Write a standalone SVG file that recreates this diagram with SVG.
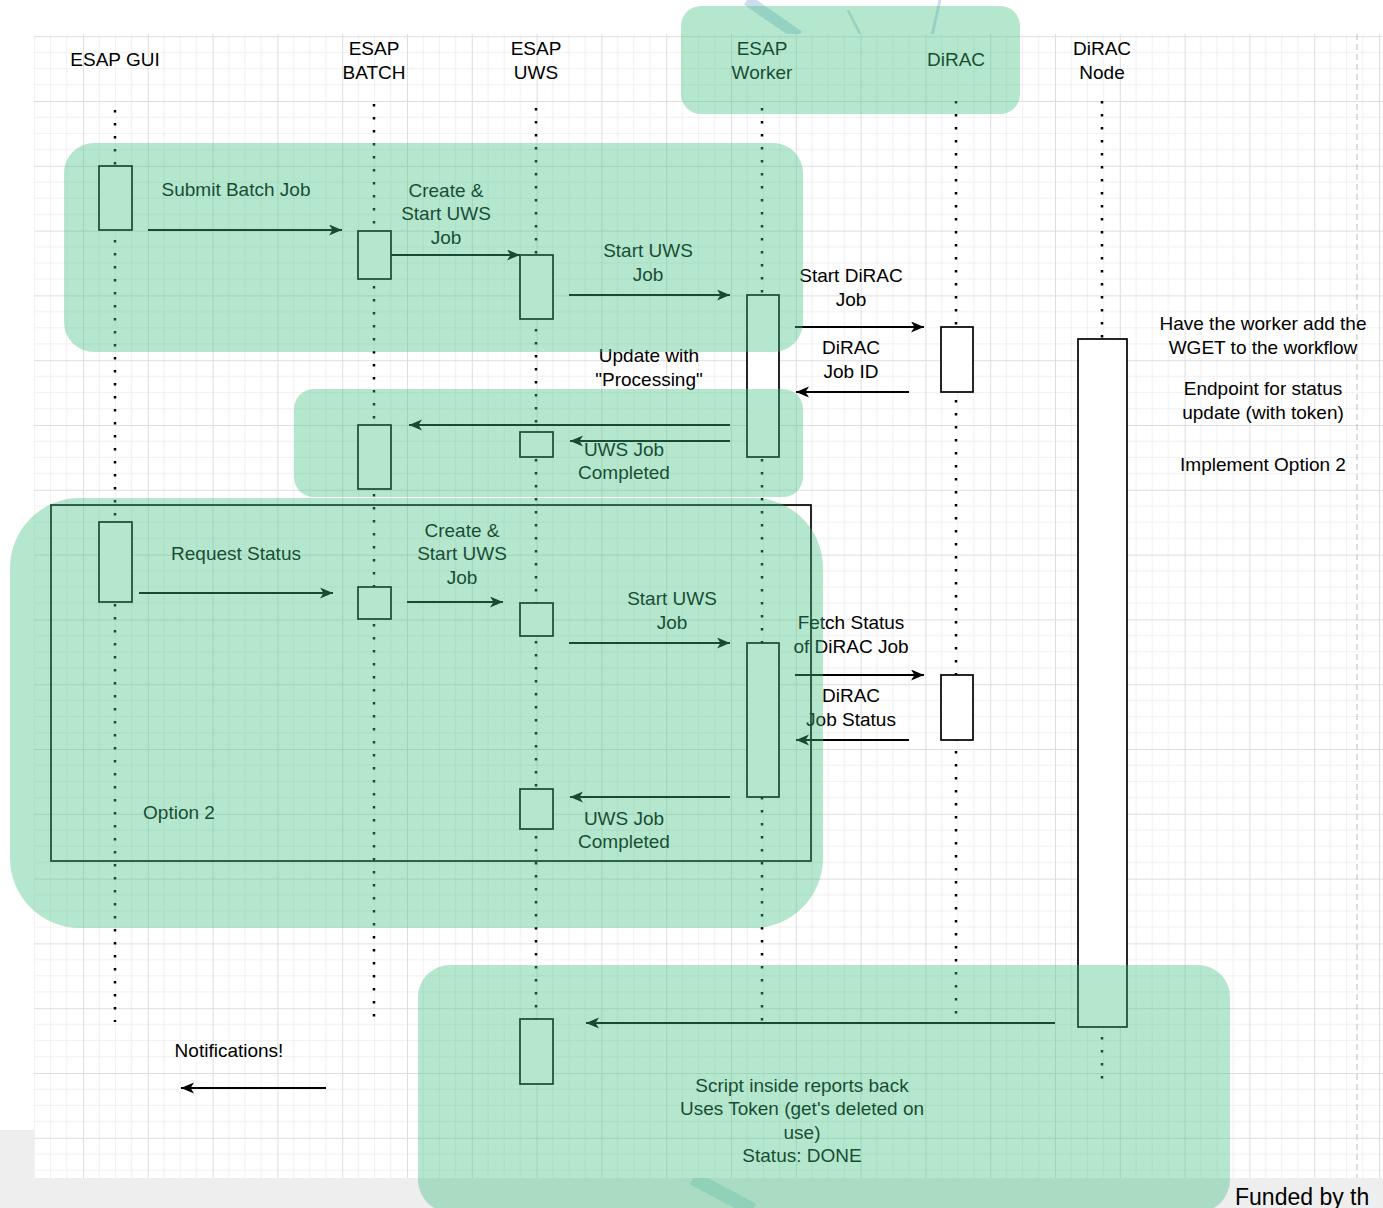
<svg xmlns="http://www.w3.org/2000/svg" width="1383" height="1208" viewBox="0 0 1383 1208">
  <defs>
    <pattern id="grid" patternUnits="userSpaceOnUse" x="18.2" y="36.2" width="64.8" height="64.8">
      <path d="M16.2,0 V64.8 M32.4,0 V64.8 M48.6,0 V64.8 M0,16.2 H64.8 M0,32.4 H64.8 M0,48.6 H64.8" stroke="#f0f0f0" stroke-width="1" fill="none"/>
      <path d="M0.5,0 V64.8 M0,0.5 H64.8" stroke="#dedede" stroke-width="1" fill="none"/>
    </pattern>
    <marker id="arr" markerUnits="userSpaceOnUse" markerWidth="14" markerHeight="12" refX="13" refY="5.5" orient="auto">
      <path d="M0,0 L13,5.5 L0,11 L3.5,5.5 Z" fill="#000"/>
    </marker>
    <style>
      text { font-family: "Liberation Sans", Arial, sans-serif; font-size: 19px; fill: #000; text-anchor: middle; }
      .life { stroke: #000; stroke-width: 2.5; stroke-dasharray: 2.5 10.5; fill: none; }
      .box { fill: #fff; stroke: #000; stroke-width: 1.7; }
      .msg { stroke: #000; stroke-width: 2; fill: none; marker-end: url(#arr); }
      .zone { fill: #40c080; fill-opacity: 0.39; }
      .diag { stroke: #cdddee; fill: none; }
    </style>
  </defs>

  <!-- background -->
  <rect x="0" y="0" width="1383" height="1208" fill="#fff"/>
  <rect x="0" y="1178" width="1383" height="30" fill="#eeeeee"/>
  <rect x="0" y="1130" width="34" height="48" fill="#eeeeee"/>
  <g id="background-diagonals">
    <path class="diag" d="M747,0 L799,36" stroke-width="11"/>
    <path class="diag" d="M848,10 L861,36" stroke-width="2.5"/>
    <path class="diag" d="M940,0 L932,36" stroke-width="3"/>
    <path d="M693,1178 L753,1210" stroke="#c5dadd" stroke-width="14" fill="none"/>
  </g>
  <rect x="34" y="34" width="1349" height="1144" fill="#fff"/>
  <rect x="34" y="34" width="1349" height="1144" fill="url(#grid)"/>
  <line x1="1357" y1="34" x2="1357" y2="1178" stroke="#c8c8c8" stroke-width="1.2" stroke-dasharray="6 4"/>

  <!-- lifelines -->
  <g id="lifelines">
    <line class="life" x1="115" y1="110" x2="115" y2="1022"/>
    <line class="life" x1="374" y1="104" x2="374" y2="1022"/>
    <line class="life" x1="536" y1="108" x2="536" y2="1026"/>
    <line class="life" x1="762" y1="108" x2="762" y2="1022"/>
    <line class="life" x1="956" y1="101" x2="956" y2="1022"/>
    <line class="life" x1="1102" y1="101" x2="1102" y2="1088"/>
  </g>

  <!-- participant headers -->
  <g id="esap-gui"><text x="115" y="66">ESAP GUI</text></g>
  <g id="esap-batch"><text x="374" y="55">ESAP</text><text x="374" y="79">BATCH</text></g>
  <g id="esap-uws"><text x="536" y="55">ESAP</text><text x="536" y="79">UWS</text></g>
  <g id="esap-worker"><text x="762" y="55">ESAP</text><text x="762" y="79">Worker</text></g>
  <g id="dirac"><text x="956" y="66">DiRAC</text></g>
  <g id="dirac-node"><text x="1102" y="55">DiRAC</text><text x="1102" y="79">Node</text></g>

  <!-- activation boxes -->
  <g id="activations">
    <rect id="gui-act-1" class="box" x="99" y="166" width="33" height="64"/>
    <rect id="batch-act-1" class="box" x="358" y="231" width="33" height="48"/>
    <rect id="uws-act-1" class="box" x="520" y="255" width="33" height="64"/>
    <rect id="worker-act-1" class="box" x="747" y="295" width="32" height="162"/>
    <rect id="dirac-act-1" class="box" x="941" y="327" width="32" height="65"/>
    <rect id="node-act" class="box" x="1078" y="339" width="49" height="688"/>
    <rect id="batch-act-2" class="box" x="358" y="425" width="33" height="64"/>
    <rect id="uws-act-2" class="box" x="520" y="432" width="33" height="25"/>
    <rect id="gui-act-2" class="box" x="99" y="522" width="33" height="80"/>
    <rect id="batch-act-3" class="box" x="358" y="587" width="33" height="32"/>
    <rect id="uws-act-3" class="box" x="520" y="603" width="33" height="33"/>
    <rect id="worker-act-2" class="box" x="747" y="643" width="32" height="154"/>
    <rect id="dirac-act-2" class="box" x="941" y="675" width="32" height="65"/>
    <rect id="uws-act-4" class="box" x="520" y="789" width="33" height="40"/>
    <rect id="uws-act-5" class="box" x="520" y="1019" width="33" height="65"/>
  </g>

  <!-- option 2 frame -->
  <g id="option2-frame">
    <rect x="51" y="505" width="760" height="356" fill="none" stroke="#000" stroke-width="1.7"/>
    <text x="179" y="819">Option 2</text>
  </g>

  <!-- connectors -->
  <g id="connectors">
    <path class="msg" d="M148,230 H342"/>
    <path class="msg" d="M391,255 H520"/>
    <path class="msg" d="M569,295 H730"/>
    <path class="msg" d="M795,327 H924"/>
    <path class="msg" d="M909,392 H796"/>
    <path class="msg" d="M730,425 H409"/>
    <path class="msg" d="M730,441 H570"/>
    <path class="msg" d="M139,593 H333"/>
    <path class="msg" d="M407,602 H503"/>
    <path class="msg" d="M569,643 H730"/>
    <path class="msg" d="M795,675 H924"/>
    <path class="msg" d="M909,740 H796"/>
    <path class="msg" d="M730,797 H570"/>
    <path class="msg" d="M1055,1023 H586"/>
    <path class="msg" d="M326,1088 H181"/>
  </g>

  <!-- connector labels -->
  <g id="labels">
    <text x="236" y="196">Submit Batch Job</text>
    <text x="446" y="197">Create &amp;</text><text x="446" y="220">Start UWS</text><text x="446" y="244">Job</text>
    <text x="648" y="257">Start UWS</text><text x="648" y="281">Job</text>
    <text x="851" y="282">Start DiRAC</text><text x="851" y="306">Job</text>
    <text x="851" y="354">DiRAC</text><text x="851" y="378">Job ID</text>
    <text x="649" y="362">Update with</text><text x="649" y="386">"Processing"</text>
    <text x="624" y="456">UWS Job</text><text x="624" y="479">Completed</text>
    <text x="236" y="560">Request Status</text>
    <text x="462" y="537">Create &amp;</text><text x="462" y="560">Start UWS</text><text x="462" y="584">Job</text>
    <text x="672" y="605">Start UWS</text><text x="672" y="629">Job</text>
    <text x="851" y="629">Fetch Status</text><text x="851" y="653">of DiRAC Job</text>
    <text x="851" y="702">DiRAC</text><text x="851" y="726">Job Status</text>
    <text x="624" y="825">UWS Job</text><text x="624" y="848">Completed</text>
    <text x="229" y="1057">Notifications!</text>
    <text x="802" y="1092">Script inside reports back</text>
    <text x="802" y="1115">Uses Token (get's deleted on</text>
    <text x="802" y="1139">use)</text>
    <text x="802" y="1162">Status: DONE</text>
  </g>

  <!-- notes -->
  <g id="notes">
    <text x="1263" y="330">Have the worker add the</text>
    <text x="1263" y="354">WGET to the workflow</text>
    <text x="1263" y="395">Endpoint for status</text>
    <text x="1263" y="419">update (with token)</text>
    <text x="1263" y="471">Implement Option 2</text>
  </g>

  <!-- translucent highlight zones -->
  <g id="highlights">
    <rect class="zone" x="681" y="6" width="339" height="108" rx="20"/>
    <rect class="zone" x="64" y="143" width="739" height="209" rx="30"/>
    <rect class="zone" x="294" y="389" width="509" height="108" rx="20"/>
    <rect class="zone" x="10" y="498" width="813" height="430" rx="70"/>
    <rect class="zone" x="418" y="965" width="812" height="247" rx="32"/>
  </g>

  <text x="1235" y="1205" style="text-anchor:start; font-size:23px;">Funded by th</text>
</svg>
